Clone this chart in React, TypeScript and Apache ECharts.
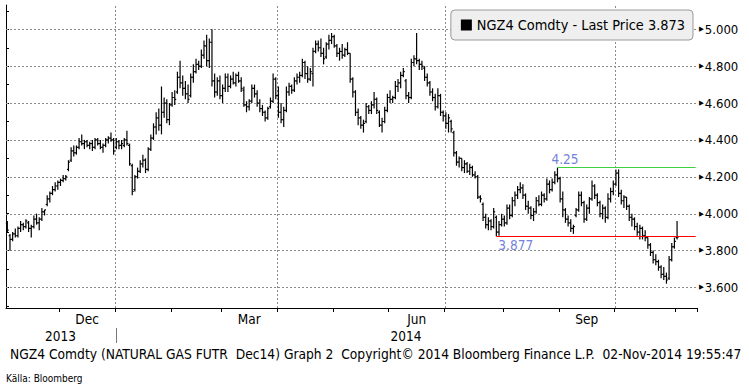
import React, { useEffect, useRef } from 'react';
import * as echarts from 'echarts';

// ---------- data ----------
const HOLIDAYS = ['2013-11-28', '2013-12-25', '2014-01-01', '2014-01-20', '2014-02-17', '2014-04-18', '2014-05-26', '2014-07-04', '2014-09-01'];
const FIRST_DAY = [2013, 10, 1];
const LAST_DAY = [2014, 10, 3];
const PAD_COUNT = 7;

// [open, high, low, close]
const NOV_2013 = [
  [3.95, 3.96, 3.90, 3.91], [3.88, 3.89, 3.80, 3.86], [3.86, 3.90, 3.85, 3.89], [3.89, 3.92, 3.87, 3.88],
  [3.88, 3.93, 3.87, 3.92], [3.92, 3.96, 3.90, 3.94], [3.94, 3.95, 3.91, 3.93], [3.93, 3.97, 3.92, 3.96],
  [3.95, 3.96, 3.90, 3.92], [3.92, 3.94, 3.87, 3.93], [3.93, 3.99, 3.92, 3.97], [3.97, 4.00, 3.94, 3.95],
  [3.95, 3.98, 3.91, 3.97], [3.97, 4.03, 3.96, 4.01], [4.01, 4.02, 3.99, 4.02], [4.05, 4.10, 4.04, 4.08],
  [4.08, 4.12, 4.06, 4.11], [4.11, 4.15, 4.10, 4.13], [4.13, 4.17, 4.12, 4.15], [4.15, 4.18, 4.13, 4.17],
];
const DEC_2013 = [
  [4.17, 4.19, 4.15, 4.18], [4.18, 4.21, 4.17, 4.19], [4.19, 4.21, 4.18, 4.20], [4.24, 4.29, 4.23, 4.28],
  [4.29, 4.36, 4.28, 4.34], [4.34, 4.37, 4.31, 4.33], [4.33, 4.37, 4.32, 4.36], [4.36, 4.41, 4.35, 4.39],
  [4.39, 4.43, 4.37, 4.38], [4.38, 4.40, 4.35, 4.39], [4.39, 4.40, 4.36, 4.37], [4.37, 4.39, 4.35, 4.38],
  [4.38, 4.40, 4.34, 4.36], [4.36, 4.41, 4.35, 4.40], [4.40, 4.41, 4.37, 4.38], [4.38, 4.40, 4.35, 4.36],
  [4.36, 4.38, 4.33, 4.37], [4.37, 4.41, 4.36, 4.40], [4.40, 4.42, 4.38, 4.41], [4.41, 4.44, 4.39, 4.40],
  [4.40, 4.41, 4.32, 4.34],
];
const JAN_2014 = [
  [4.36, 4.41, 4.35, 4.39], [4.39, 4.40, 4.35, 4.37], [4.37, 4.40, 4.35, 4.38], [4.37, 4.41, 4.36, 4.40],
  [4.40, 4.45, 4.37, 4.38], [4.37, 4.38, 4.26, 4.27], [4.26, 4.27, 4.10, 4.12], [4.13, 4.21, 4.12, 4.20],
  [4.20, 4.25, 4.19, 4.23], [4.23, 4.29, 4.22, 4.27], [4.27, 4.32, 4.25, 4.29], [4.29, 4.30, 4.22, 4.24],
  [4.24, 4.36, 4.23, 4.35], [4.35, 4.43, 4.34, 4.41], [4.41, 4.49, 4.40, 4.47], [4.47, 4.55, 4.43, 4.52],
  [4.52, 4.57, 4.45, 4.48], [4.48, 4.69, 4.43, 4.55], [4.55, 4.63, 4.52, 4.60], [4.60, 4.62, 4.49, 4.51],
  [4.51, 4.60, 4.48, 4.59],
];
const FEB_2014 = [
  [4.59, 4.66, 4.58, 4.63], [4.63, 4.67, 4.59, 4.62], [4.66, 4.77, 4.65, 4.74], [4.74, 4.83, 4.68, 4.71],
  [4.71, 4.75, 4.64, 4.68], [4.68, 4.72, 4.62, 4.65], [4.65, 4.70, 4.60, 4.62], [4.64, 4.76, 4.63, 4.74],
  [4.74, 4.81, 4.71, 4.77], [4.77, 4.84, 4.76, 4.81], [4.81, 4.83, 4.78, 4.80], [4.80, 4.89, 4.79, 4.86],
  [4.86, 4.94, 4.84, 4.91], [4.91, 4.97, 4.80, 4.83], [4.83, 4.95, 4.79, 4.93], [4.93, 5.00, 4.69, 4.72],
  [4.72, 4.76, 4.63, 4.66], [4.66, 4.74, 4.64, 4.72], [4.72, 4.75, 4.62, 4.64],
];
const MAR_2014 = [
  [4.64, 4.70, 4.60, 4.68], [4.68, 4.76, 4.66, 4.74], [4.74, 4.76, 4.66, 4.69], [4.69, 4.75, 4.68, 4.73],
  [4.73, 4.77, 4.70, 4.71], [4.71, 4.76, 4.69, 4.75], [4.75, 4.77, 4.71, 4.72], [4.72, 4.74, 4.66, 4.68],
  [4.67, 4.69, 4.58, 4.59], [4.59, 4.61, 4.55, 4.58], [4.58, 4.62, 4.56, 4.61], [4.61, 4.70, 4.60, 4.68],
  [4.68, 4.70, 4.63, 4.65], [4.65, 4.67, 4.58, 4.60], [4.60, 4.62, 4.55, 4.57], [4.57, 4.59, 4.53, 4.55],
  [4.55, 4.56, 4.50, 4.52], [4.52, 4.58, 4.51, 4.57], [4.58, 4.63, 4.57, 4.61], [4.61, 4.76, 4.60, 4.73],
  [4.73, 4.74, 4.62, 4.64],
];
const APR_2014 = [
  [4.64, 4.69, 4.52, 4.55], [4.55, 4.60, 4.49, 4.51], [4.51, 4.58, 4.47, 4.56], [4.56, 4.69, 4.55, 4.66],
  [4.66, 4.71, 4.64, 4.69], [4.69, 4.70, 4.65, 4.67], [4.67, 4.74, 4.66, 4.72], [4.72, 4.76, 4.70, 4.74],
  [4.74, 4.77, 4.71, 4.75], [4.75, 4.84, 4.74, 4.82], [4.82, 4.83, 4.73, 4.76], [4.76, 4.80, 4.71, 4.73],
  [4.73, 4.79, 4.72, 4.77], [4.76, 4.90, 4.69, 4.88], [4.88, 4.94, 4.87, 4.92], [4.92, 4.94, 4.88, 4.90],
  [4.90, 4.95, 4.85, 4.87], [4.87, 4.90, 4.81, 4.84], [4.85, 4.93, 4.84, 4.92], [4.92, 4.97, 4.89, 4.94],
  [4.94, 4.98, 4.92, 4.96],
];
const MAY_2014 = [
  [4.96, 4.97, 4.90, 4.91], [4.91, 4.92, 4.85, 4.87], [4.87, 4.90, 4.83, 4.88], [4.88, 4.92, 4.84, 4.86],
  [4.86, 4.90, 4.85, 4.89], [4.89, 4.93, 4.86, 4.87], [4.87, 4.87, 4.71, 4.73], [4.73, 4.74, 4.63, 4.66],
  [4.66, 4.67, 4.53, 4.55], [4.55, 4.57, 4.48, 4.52], [4.52, 4.53, 4.46, 4.48], [4.48, 4.51, 4.44, 4.49],
  [4.50, 4.60, 4.49, 4.58], [4.58, 4.59, 4.54, 4.56], [4.56, 4.61, 4.54, 4.59], [4.59, 4.66, 4.57, 4.62],
  [4.62, 4.63, 4.54, 4.56], [4.55, 4.56, 4.47, 4.48], [4.48, 4.52, 4.44, 4.50], [4.50, 4.58, 4.49, 4.56],
  [4.56, 4.65, 4.55, 4.63],
];
const JUN_2014 = [
  [4.63, 4.67, 4.60, 4.62], [4.62, 4.64, 4.60, 4.63], [4.63, 4.72, 4.62, 4.69], [4.69, 4.73, 4.66, 4.71],
  [4.71, 4.77, 4.68, 4.75], [4.75, 4.79, 4.74, 4.77], [4.72, 4.73, 4.62, 4.64], [4.64, 4.66, 4.60, 4.63],
  [4.63, 4.84, 4.62, 4.82], [4.82, 4.86, 4.80, 4.84], [4.84, 4.98, 4.81, 4.83], [4.83, 4.84, 4.78, 4.81],
  [4.81, 4.83, 4.78, 4.80], [4.79, 4.80, 4.72, 4.74], [4.74, 4.76, 4.69, 4.71], [4.71, 4.72, 4.64, 4.66],
  [4.66, 4.68, 4.61, 4.63], [4.63, 4.65, 4.56, 4.58], [4.58, 4.68, 4.57, 4.64], [4.64, 4.65, 4.53, 4.55],
  [4.55, 4.56, 4.50, 4.53],
];
const JUL_2014 = [
  [4.53, 4.55, 4.46, 4.49], [4.49, 4.54, 4.44, 4.52], [4.50, 4.51, 4.44, 4.46], [4.44, 4.45, 4.31, 4.33],
  [4.33, 4.34, 4.26, 4.28], [4.28, 4.31, 4.25, 4.30], [4.30, 4.30, 4.23, 4.25], [4.25, 4.29, 4.22, 4.27],
  [4.27, 4.28, 4.22, 4.23], [4.23, 4.27, 4.21, 4.25], [4.25, 4.26, 4.20, 4.21], [4.21, 4.23, 4.19, 4.20],
  [4.20, 4.21, 4.08, 4.09], [4.09, 4.10, 4.06, 4.08], [4.05, 4.06, 3.96, 3.98], [3.98, 4.00, 3.92, 3.94],
  [3.94, 3.98, 3.91, 3.96], [3.96, 3.97, 3.91, 3.93], [3.93, 4.03, 3.92, 4.01], [3.98, 3.99, 3.877, 3.90],
  [3.90, 3.96, 3.88, 3.94], [3.94, 4.00, 3.93, 3.97],
];
const AUG_2014 = [
  [3.97, 3.99, 3.93, 3.95], [3.95, 4.05, 3.94, 4.03], [4.03, 4.05, 3.97, 3.99], [3.99, 4.09, 3.98, 4.07],
  [4.07, 4.12, 4.04, 4.10], [4.10, 4.15, 4.08, 4.13], [4.13, 4.17, 4.11, 4.14], [4.14, 4.16, 4.08, 4.10],
  [4.10, 4.11, 4.02, 4.04], [4.04, 4.07, 4.00, 4.03], [4.03, 4.04, 3.97, 3.99], [3.99, 4.03, 3.96, 4.01],
  [4.01, 4.09, 4.00, 4.07], [4.07, 4.10, 4.04, 4.05], [4.05, 4.12, 4.04, 4.10], [4.10, 4.11, 4.06, 4.08],
  [4.08, 4.19, 4.07, 4.16], [4.16, 4.18, 4.11, 4.13], [4.13, 4.19, 4.12, 4.17], [4.17, 4.23, 4.16, 4.21],
  [4.21, 4.25, 4.17, 4.19],
];
const SEP_2014 = [
  [4.19, 4.20, 4.06, 4.08], [4.08, 4.12, 3.98, 4.02], [4.02, 4.03, 3.95, 3.97], [3.97, 3.99, 3.93, 3.95],
  [3.95, 3.97, 3.90, 3.92], [3.92, 3.94, 3.89, 3.93], [3.99, 4.03, 3.98, 4.02], [4.02, 4.12, 4.01, 4.10],
  [4.10, 4.12, 4.04, 4.06], [4.06, 4.07, 3.95, 3.97], [3.97, 4.05, 3.96, 4.03], [4.03, 4.09, 4.00, 4.08],
  [4.08, 4.18, 4.07, 4.15], [4.15, 4.16, 4.08, 4.10], [4.10, 4.11, 4.04, 4.06], [4.06, 4.07, 3.98, 4.00],
  [4.00, 4.05, 3.97, 4.03], [4.03, 4.04, 3.95, 3.98], [3.98, 4.11, 3.97, 4.08], [4.08, 4.14, 4.06, 4.12],
  [4.12, 4.18, 4.10, 4.16],
];
const OCT_2014 = [
  [4.16, 4.24, 4.15, 4.22], [4.22, 4.24, 4.09, 4.11], [4.11, 4.13, 4.05, 4.07], [4.07, 4.10, 4.03, 4.09],
  [4.09, 4.09, 4.02, 4.04], [4.04, 4.05, 3.96, 3.98], [3.98, 4.00, 3.93, 3.97], [3.97, 3.98, 3.91, 3.93],
  [3.93, 3.95, 3.88, 3.90], [3.90, 3.94, 3.86, 3.92], [3.92, 3.93, 3.86, 3.88], [3.88, 3.91, 3.85, 3.87],
  [3.87, 3.87, 3.81, 3.83], [3.83, 3.84, 3.77, 3.79], [3.79, 3.80, 3.73, 3.75], [3.75, 3.78, 3.72, 3.74],
  [3.74, 3.75, 3.69, 3.71], [3.71, 3.72, 3.65, 3.67], [3.67, 3.71, 3.64, 3.66], [3.66, 3.68, 3.62, 3.64],
  [3.65, 3.77, 3.64, 3.75], [3.75, 3.84, 3.74, 3.82], [3.82, 3.87, 3.81, 3.85],
];
const NOV_2014 = [[3.87, 3.96, 3.86, 3.873]];

const LAST_PRICE = 3.873;
const LOW_LEVEL = 3.877;
const HIGH_LEVEL = 4.25;
const Y_MIN = 3.488;
const Y_MAX = 5.132;
const Y_TICKS = [3.5, 3.6, 3.7, 3.8, 3.9, 4.0, 4.1, 4.2, 4.3, 4.4, 4.5, 4.6, 4.7, 4.8, 4.9, 5.0, 5.1];
const Y_LABELS = [3.6, 3.8, 4.0, 4.2, 4.4, 4.6, 4.8, 5.0];
const MONTH_ABBR = ['Jan', 'Feb', 'Mar', 'Apr', 'May', 'Jun', 'Jul', 'Aug', 'Sep', 'Oct', 'Nov', 'Dec'];
const LABEL_MONTHS = [12, 3, 6, 9];
const GRID_MONTHS = [1, 4, 7, 10];
const SERIES_NAME = 'NGZ4 Comdty';
const FOOTER = 'NGZ4 Comdty (NATURAL GAS FUTR \u00a0Dec14) Graph 2 \u00a0Copyright\u00a9 2014 Bloomberg Finance L.P. \u00a002-Nov-2014 19:55:47';
const SOURCE = 'Källa: Bloomberg';

const FONT = '"DejaVu Sans Condensed", "DejaVu Sans", sans-serif';

// ---------- derived ----------
function buildTradingDays(): string[] {
  const out: string[] = [];
  const d = new Date(Date.UTC(FIRST_DAY[0], FIRST_DAY[1], FIRST_DAY[2]));
  const end = Date.UTC(LAST_DAY[0], LAST_DAY[1], LAST_DAY[2]);
  while (d.getTime() <= end) {
    const wd = d.getUTCDay();
    const s = d.toISOString().slice(0, 10);
    if (wd !== 0 && wd !== 6 && HOLIDAYS.indexOf(s) < 0) out.push(s);
    d.setUTCDate(d.getUTCDate() + 1);
  }
  return out;
}

const DAYS = buildTradingDays();
const BARS = [
  ...NOV_2013, ...DEC_2013, ...JAN_2014, ...FEB_2014, ...MAR_2014, ...APR_2014,
  ...MAY_2014, ...JUN_2014, ...JUL_2014, ...AUG_2014, ...SEP_2014, ...OCT_2014, ...NOV_2014,
];
const CATS = [...DAYS];
for (let k = 1; k <= PAD_COUNT; k++) CATS.push('pad-' + k);

const monthOf = (i: number) => parseInt(DAYS[i].slice(5, 7), 10);
const isMonthStart = (i: number) => i > 0 && i < DAYS.length && DAYS[i].slice(0, 7) !== DAYS[i - 1].slice(0, 7);

const monthLabelIdx: number[] = [];
{
  let start = 0;
  for (let i = 1; i <= DAYS.length; i++) {
    if (i === DAYS.length || DAYS[i].slice(0, 7) !== DAYS[start].slice(0, 7)) {
      const m = monthOf(start);
      if (LABEL_MONTHS.indexOf(m) >= 0) monthLabelIdx.push(start + Math.floor((i - start) / 2));
      start = i;
    }
  }
}
const quarterStarts: number[] = [];
for (let i = 1; i < DAYS.length; i++) {
  if (isMonthStart(i) && GRID_MONTHS.indexOf(monthOf(i)) >= 0) quarterStarts.push(i);
}
const yearBreak = DAYS.findIndex((d) => d.slice(0, 4) === '2014');
const yearLabelIdx = [Math.floor(yearBreak / 2), yearBreak + Math.floor((CATS.length - yearBreak) / 2)];
const lowIdx = BARS.findIndex((b) => b[2] === LOW_LEVEL);
const highIdx = BARS.findIndex((b, i) => i > lowIdx && b[1] === HIGH_LEVEL);

// grid items: [x (day boundary), y (price), kind 0 = horizontal, 1 = vertical]
const GRID_ITEMS = [
  ...Y_LABELS.map((v) => [0, v, 0]),
  ...quarterStarts.map((k) => [k, Y_MIN, 1]),
];

export default function App() {
  const ref = useRef<HTMLDivElement>(null);
  useEffect(() => {
    if (!ref.current) return;
    const chart = echarts.init(ref.current, null, { renderer: 'svg' });
    const lastCat = CATS.length - 1;
    const nCats = CATS.length;
    const option: any = {
      animation: false,
      backgroundColor: '#fff',
      textStyle: { fontFamily: FONT },
      grid: { left: 6, right: 52, top: 5, bottom: 81 },
      legend: {
        show: true,
        right: 56,
        top: 10,
        icon: 'rect',
        itemWidth: 11,
        itemHeight: 11,
        backgroundColor: '#efefef',
        borderColor: '#9a9a9a',
        borderWidth: 1,
        borderRadius: 4,
        padding: [8, 8, 8, 10],
        textStyle: { fontSize: 14.4, color: '#000', fontFamily: FONT },
        formatter: (n: string) => `${n} - Last Price ${LAST_PRICE.toFixed(3)}`,
        data: [{ name: SERIES_NAME, itemStyle: { color: '#000' } }],
      },
      xAxis: [
        {
          type: 'category',
          data: CATS,
          boundaryGap: true,
          axisLine: { show: true, onZero: false, lineStyle: { color: '#000', width: 1 } },
          axisTick: { show: true, length: 4, interval: (i: number) => isMonthStart(i), lineStyle: { color: '#000' } },
          axisLabel: {
            show: true,
            interval: (i: number) => monthLabelIdx.indexOf(i) >= 0,
            formatter: (v: string) => MONTH_ABBR[parseInt(v.slice(5, 7), 10) - 1],
            margin: 4,
            fontSize: 13.5,
            color: '#000',
            fontFamily: FONT,
          },
          splitLine: { show: false },
        },
        {
          type: 'category',
          data: CATS,
          boundaryGap: true,
          position: 'bottom',
          offset: 20,
          axisLine: { show: false },
          axisTick: {
            show: true,
            alignWithLabel: true,
            length: 15,
            interval: (i: number) => i === yearBreak,
            lineStyle: { color: '#777' },
          },
          axisLabel: {
            show: true,
            interval: (i: number) => yearLabelIdx.indexOf(i) >= 0,
            formatter: (v: string) => v.slice(0, 4),
            margin: 1,
            fontSize: 13.5,
            color: '#000',
            fontFamily: FONT,
          },
          splitLine: { show: false },
        },
        // hidden value axis over the same grid: integer k = left edge of trading day k
        { type: 'value', min: 0, max: nCats, show: false },
      ],
      yAxis: [
        {
          type: 'value',
          position: 'right',
          min: Y_MIN,
          max: Y_MAX,
          axisLine: { show: true, lineStyle: { color: '#000', width: 1 } },
          axisTick: { show: true, length: 3, customValues: Y_TICKS, lineStyle: { color: '#000' } },
          axisLabel: {
            show: true,
            customValues: Y_LABELS,
            margin: 2,
            formatter: (v: number) => `{t|\u25B6}{v|${v.toFixed(3)}}`,
            rich: {
              t: { fontSize: 7, color: '#000', padding: [0, 1, 0, 0] },
              v: { fontSize: 13, color: '#000', fontFamily: FONT },
            },
          },
          splitLine: { show: false },
        },
      ],
      graphic: [
        { type: 'text', left: 10, top: 347, style: { text: FOOTER, fontSize: 13.7, fill: '#000', fontFamily: FONT } },
        { type: 'text', left: 6, top: 373, style: { text: SOURCE, fontSize: 10, fill: '#000', fontFamily: FONT } },
      ],
      series: [
        {
          type: 'custom',
          name: 'grid',
          xAxisIndex: 2,
          z: 1,
          data: GRID_ITEMS,
          encode: { x: 0, y: 1 },
          renderItem: (p: any, api: any) => {
            const kind = api.value(2);
            const a = kind === 0 ? api.coord([0, api.value(1)]) : api.coord([api.value(0), Y_MIN]);
            const b = kind === 0 ? api.coord([nCats, api.value(1)]) : api.coord([api.value(0), Y_MAX]);
            const x1 = kind === 1 ? Math.round(a[0]) + 0.5 : a[0];
            const x2 = kind === 1 ? x1 : b[0];
            const y1 = kind === 0 ? Math.round(a[1]) + 0.5 : a[1];
            const y2 = kind === 0 ? y1 : b[1];
            return {
              type: 'line',
              shape: { x1, y1, x2, y2 },
              style: { stroke: '#8a8a8a', lineWidth: 1, lineDash: [2, 2] },
            };
          },
        },
        {
          type: 'custom',
          name: SERIES_NAME,
          z: 3,
          itemStyle: { color: '#000' },
          encode: { x: 0, y: [1, 2, 3, 4] },
          data: BARS.map((b, i) => [i, b[0], b[1], b[2], b[3]]),
          renderItem: (params: any, api: any) => {
            const i = api.value(0);
            const po = api.coord([i, api.value(1)]);
            const ph = api.coord([i, api.value(2)]);
            const pl = api.coord([i, api.value(3)]);
            const pc = api.coord([i, api.value(4)]);
            const bw = api.size([1, 0])[0];
            const t = bw * 0.55;
            const x = ph[0];
            const st = { stroke: '#000', lineWidth: 1.2 };
            return {
              type: 'group',
              children: [
                { type: 'line', shape: { x1: x, y1: ph[1], x2: x, y2: pl[1] }, style: st },
                { type: 'line', shape: { x1: x - t, y1: po[1], x2: x, y2: po[1] }, style: st },
                { type: 'line', shape: { x1: x, y1: pc[1], x2: x + t, y2: pc[1] }, style: st },
              ],
            };
          },
          markLine: {
            symbol: ['none', 'none'],
            animation: false,
            data: [
              [
                {
                  coord: [lowIdx, LOW_LEVEL],
                  lineStyle: { color: '#ff0000', width: 1, type: 'solid' },
                  label: {
                    show: true,
                    position: 'insideStartBottom',
                    formatter: LOW_LEVEL.toFixed(3),
                    color: '#7482dc',
                    fontSize: 13.5,
                    fontFamily: FONT,
                    distance: 2,
                  },
                },
                { coord: [lastCat, LOW_LEVEL] },
              ],
              [
                {
                  coord: [highIdx, HIGH_LEVEL],
                  lineStyle: { color: '#3fd03f', width: 1, type: 'solid' },
                  label: {
                    show: true,
                    position: 'insideStartTop',
                    formatter: String(HIGH_LEVEL),
                    color: '#7482dc',
                    fontSize: 13.5,
                    fontFamily: FONT,
                    distance: 2,
                    offset: [-8, 0],
                  },
                },
                { coord: [lastCat, HIGH_LEVEL] },
              ],
              {
                yAxis: LAST_PRICE,
                lineStyle: { width: 0, opacity: 0, color: '#000' },
                label: {
                  show: true,
                  position: 'end',
                  distance: 0,
                  formatter: `{a|\u25C0}{b|${LAST_PRICE.toFixed(3)}}`,
                  rich: {
                    a: { color: '#000', fontSize: 10 },
                    b: {
                      color: '#fff',
                      backgroundColor: '#000',
                      fontSize: 13.5,
                      fontFamily: FONT,
                      padding: [3, 4, 2, 3],
                      borderRadius: 2,
                    },
                  },
                },
              },
            ],
          },
        },
      ],
    };
    chart.setOption(option);
    return () => chart.dispose();
  }, []);
  return (
    <div
      ref={ref}
      style={{ position: 'fixed', left: 0, top: 0, width: 749, height: 389, background: '#fff' }}
    />
  );
}
